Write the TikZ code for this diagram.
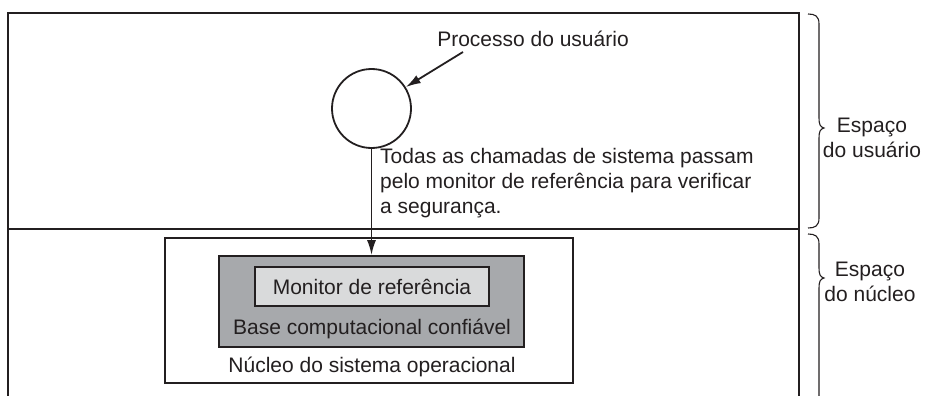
\documentclass[tikz,border=0pt]{standalone}
\usepackage{fontspec}
\setmainfont{Liberation Sans}
\usetikzlibrary{arrows.meta}
\definecolor{ink}{HTML}{231F20}
\definecolor{tcbgray}{HTML}{A7A9AC}
\definecolor{refgray}{HTML}{D9DADB}
\tikzset{
  frame/.style={draw=ink, line width=1.8pt},
  box/.style={draw=ink, line width=1.8pt, inner sep=0pt},
  lbl/.style={inner sep=0pt, font=\fontsize{21}{25}\selectfont, text=ink},
  arr/.style={draw=ink, line width=1.8pt, -{Latex[length=15pt,width=9pt]}},
  brace/.style={draw=ink, line width=1.1pt}
}
\begin{document}
\begin{tikzpicture}[x=1pt,y=-1pt]
\useasboundingbox (0,0) rectangle (929,396);
\begin{scope}
\clip (0,0) rectangle (929,396);
% outer frame
\draw[frame] (8,400) -- (8,13) -- (799,13) -- (799,400);
\draw[frame] (8,229) -- (799,229);
% kernel box
\node[box, fill=white, minimum width=408pt, minimum height=145pt] (kern) at (369,310.5) {};
\node[box, fill=tcbgray, minimum width=305pt, minimum height=91pt] (tcb) at (371.5,301.5) {};
\node[box, fill=refgray, minimum width=234pt, minimum height=39pt] (ref) at (372,286.5) {};
\node[lbl] (reft) at (ref.center) {Monitor de referência};
\node[lbl] (tcbt) at (372,329) {Base computacional confiável};
\node[lbl] (kernt) at (372,367) {Núcleo do sistema operacional};
% user process
\node[draw=ink, line width=1.8pt, circle, minimum size=79pt, inner sep=0pt] (proc) at (371.5,108.5) {};
\node[lbl] (proct) at (533,39) {Processo do usuário};
\coordinate (pa) at (463,52);
\draw[arr] (pa) -- (proc.32);
\draw[arr] (proc.south) -- (tcb.north -| proc.south);
\node[lbl, anchor=north west, align=left] (note) at (380,148) {Todas as chamadas de sistema passam\\pelo monitor de referência para verificar\\a segurança.};
% braces
\draw[brace] (808,14) .. controls (815,14) and (819,16) .. (819,24) -- (819,118) .. controls (819,124) and (820,127) .. (824,128) .. controls (820,129) and (819,132) .. (819,138) -- (819,218) .. controls (819,226) and (815,228) .. (808,228);
\node[lbl, align=center] (us) at (872,138) {Espaço\\do usuário};
\draw[brace] (808,234) .. controls (815,234) and (819,236) .. (819,244) -- (819,268) .. controls (819,274) and (820,277) .. (824,278) .. controls (820,279) and (819,282) .. (819,288) -- (819,400);
\node[lbl, align=center] (ks) at (870,282) {Espaço\\do núcleo};
\end{scope}
\end{tikzpicture}
\end{document}
